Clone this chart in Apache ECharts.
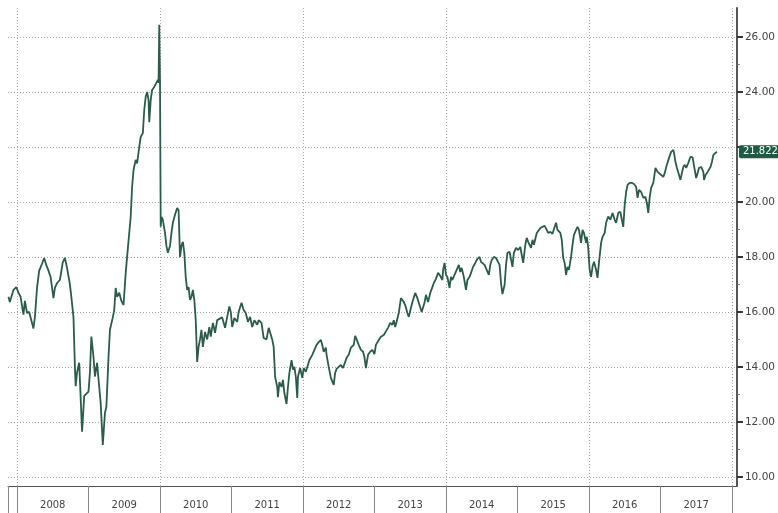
<!DOCTYPE html>
<html>
<head>
<meta charset="utf-8">
<script src="https://cdn.jsdelivr.net/npm/echarts@6/dist/echarts.min.js"></script>
<style>
  html, body { margin: 0; padding: 0; background: #fff; }
  #main { width: 778px; height: 513px; }
</style>
</head>
<body>
<div id="main"></div>
<script>
// positions on the time axis, in decimal years (weekly-ish samples)
var years = [
  2007.88, 2007.90, 2007.95, 2007.99, 2008.02, 2008.05, 2008.09, 2008.11, 2008.14, 2008.17,
  2008.21, 2008.23, 2008.25, 2008.28, 2008.31, 2008.35, 2008.38, 2008.41, 2008.44, 2008.47,
  2008.51, 2008.53, 2008.56, 2008.60, 2008.64, 2008.67, 2008.70, 2008.74, 2008.76, 2008.79,
  2008.81, 2008.82, 2008.84, 2008.87, 2008.89, 2008.91, 2008.94, 2008.96, 2009.00, 2009.02,
  2009.04, 2009.07, 2009.09, 2009.12, 2009.15, 2009.17, 2009.20, 2009.23, 2009.25, 2009.28,
  2009.30, 2009.34, 2009.36, 2009.38, 2009.40, 2009.43, 2009.46, 2009.49,
  2009.52, 2009.54, 2009.57, 2009.59, 2009.61, 2009.63, 2009.66, 2009.68, 2009.71, 2009.73,
  2009.76, 2009.78, 2009.80, 2009.82, 2009.84, 2009.85, 2009.87, 2009.89, 2009.92, 2009.94,
  2009.97, 2009.98, 2009.99, 2010.00, 2010.01, 2010.02, 2010.04, 2010.07, 2010.09, 2010.11,
  2010.14, 2010.16, 2010.18, 2010.21, 2010.24, 2010.26, 2010.28, 2010.30, 2010.32, 2010.34,
  2010.36, 2010.38, 2010.40, 2010.42, 2010.44, 2010.46, 2010.48, 2010.50, 2010.52, 2010.54,
  2010.56, 2010.58, 2010.60, 2010.63, 2010.66, 2010.69, 2010.71, 2010.74, 2010.77, 2010.80,
  2010.87, 2010.91, 2010.94, 2010.97, 2010.99, 2011.01, 2011.04, 2011.08, 2011.10, 2011.14,
  2011.17, 2011.20, 2011.23, 2011.26, 2011.29, 2011.32, 2011.36, 2011.38, 2011.42, 2011.45,
  2011.49, 2011.52, 2011.54, 2011.57, 2011.59, 2011.61, 2011.64, 2011.65, 2011.67, 2011.70,
  2011.72, 2011.74, 2011.77, 2011.79, 2011.81, 2011.84, 2011.86, 2011.88, 2011.90, 2011.92,
  2011.93, 2011.96, 2011.99, 2012.01, 2012.04, 2012.06, 2012.09, 2012.13, 2012.16, 2012.19,
  2012.22, 2012.25, 2012.27, 2012.29, 2012.32, 2012.33, 2012.36, 2012.39, 2012.41, 2012.43,
  2012.45, 2012.47, 2012.50, 2012.53, 2012.56, 2012.59, 2012.61, 2012.64, 2012.67, 2012.71,
  2012.73, 2012.75, 2012.78, 2012.81, 2012.84, 2012.86, 2012.88, 2012.91, 2012.94,
  2012.97, 2013.00, 2013.02, 2013.06, 2013.09, 2013.13, 2013.15, 2013.19, 2013.22, 2013.25,
  2013.27, 2013.29, 2013.31, 2013.34, 2013.37, 2013.41, 2013.43, 2013.46, 2013.48, 2013.51,
  2013.54, 2013.57, 2013.60, 2013.63, 2013.66, 2013.68, 2013.70, 2013.72, 2013.75, 2013.78,
  2013.81, 2013.83, 2013.86, 2013.89, 2013.92, 2013.95, 2013.96, 2013.98, 2014.00, 2014.02,
  2014.05, 2014.07, 2014.09, 2014.12, 2014.15, 2014.18, 2014.20, 2014.22, 2014.25, 2014.28,
  2014.30, 2014.33, 2014.35, 2014.38, 2014.41, 2014.44, 2014.47, 2014.49, 2014.51, 2014.54,
  2014.57, 2014.60, 2014.62, 2014.64, 2014.67, 2014.70, 2014.72, 2014.75, 2014.77, 2014.79,
  2014.82, 2014.84, 2014.86, 2014.89, 2014.91, 2014.93, 2014.95, 2014.98, 2015.01, 2015.04,
  2015.08, 2015.11, 2015.13, 2015.15, 2015.19, 2015.21, 2015.23, 2015.27, 2015.29, 2015.32,
  2015.35, 2015.38, 2015.41, 2015.43, 2015.46, 2015.49, 2015.52, 2015.54, 2015.56, 2015.57,
  2015.60, 2015.62, 2015.64, 2015.66, 2015.68, 2015.70, 2015.72, 2015.75, 2015.77, 2015.79,
  2015.82, 2015.84, 2015.86, 2015.89, 2015.91, 2015.93, 2015.96, 2015.97, 2015.99, 2016.01,
  2016.03, 2016.05, 2016.07, 2016.10, 2016.12, 2016.14, 2016.17, 2016.19, 2016.22, 2016.24,
  2016.27, 2016.30, 2016.33, 2016.36, 2016.38, 2016.41, 2016.44, 2016.46, 2016.48, 2016.50,
  2016.52, 2016.54, 2016.57, 2016.60, 2016.63, 2016.66, 2016.68, 2016.70, 2016.73, 2016.76,
  2016.79, 2016.81, 2016.83, 2016.85, 2016.87, 2016.90, 2016.92, 2016.93, 2016.96, 2016.98,
  2017.01, 2017.04, 2017.06, 2017.09, 2017.12, 2017.15, 2017.18, 2017.19, 2017.21, 2017.23,
  2017.26, 2017.28, 2017.30, 2017.32, 2017.34, 2017.36, 2017.39, 2017.42, 2017.45, 2017.47,
  2017.48, 2017.50, 2017.52, 2017.54, 2017.57, 2017.60, 2017.61, 2017.63, 2017.66, 2017.68,
  2017.70, 2017.72, 2017.74, 2017.77, 2017.79
];

var values = [
  16.55, 16.36, 16.80, 16.90, 16.70, 16.55, 15.90, 16.40, 15.96, 16.00,
  15.60, 15.40, 15.80, 16.87, 17.50, 17.75, 17.96, 17.70, 17.50, 17.27,
  16.50, 16.87, 17.05, 17.16, 17.80, 17.96, 17.60, 17.00, 16.55, 15.80,
  14.00, 13.30, 13.80, 14.15, 12.90, 11.64, 12.95, 12.90, 13.10, 13.80,
  15.10, 14.36, 13.65, 14.15, 13.27, 12.70, 11.16, 12.33, 12.55, 14.36,
  15.35, 15.80, 16.07, 16.87, 16.55, 16.70, 16.40, 16.25,
  17.40, 18.00, 18.87, 19.45, 20.55, 21.16, 21.53, 21.40, 22.00, 22.36,
  22.50, 23.35, 23.82, 24.00, 23.70, 22.90, 23.70, 24.07, 24.18, 24.25,
  24.44, 24.33, 26.44, 24.40, 19.10, 19.45, 19.35, 18.87, 18.40, 18.15,
  18.40, 18.87, 19.24, 19.53, 19.78, 19.70, 18.00, 18.40, 18.55, 18.15,
  17.27, 16.80, 16.90, 16.44, 16.55, 16.80, 16.44, 15.70, 14.18, 14.73,
  15.00, 15.35, 14.73, 15.27, 15.00, 15.45, 15.10, 15.60, 15.24, 15.70,
  15.80, 15.42, 15.82, 16.20, 16.00, 15.45, 15.78, 15.64, 16.00, 16.33,
  16.07, 15.96, 15.64, 15.82, 15.45, 15.70, 15.53, 15.70, 15.60, 15.05,
  15.00, 15.42, 15.42, 15.00, 14.73, 13.64, 13.27, 12.90, 13.45, 13.27,
  13.53, 13.05, 12.65, 13.27, 13.78, 14.25, 13.90, 14.00, 13.64, 12.87,
  13.64, 13.96, 13.60, 13.96, 13.82, 14.00, 14.25, 14.44, 14.62, 14.80,
  14.90, 14.98, 14.80, 14.55, 14.70, 14.44, 14.00, 13.60, 13.53, 13.35,
  13.78, 13.93, 14.00, 14.07, 13.96, 14.18, 14.33, 14.44, 14.70, 14.80,
  15.13, 15.00, 14.80, 14.62, 14.55, 14.36, 13.96, 14.44, 14.55,
  14.62, 14.47, 14.80, 14.98, 15.10, 15.16, 15.10, 15.42, 15.60, 15.53,
  15.70, 15.45, 15.64, 15.96, 16.50, 16.36, 16.25, 15.96, 15.82, 16.15,
  16.44, 16.69, 16.50, 16.25, 16.00, 15.96, 16.33, 16.62, 16.36, 16.69,
  16.90, 17.05, 17.20, 17.42, 17.31, 17.16, 17.53, 17.78, 17.35, 17.27,
  16.87, 17.27, 17.16, 17.35, 17.53, 17.71, 17.45, 17.60, 17.27, 16.80,
  17.16, 17.27, 17.42, 17.64, 17.78, 17.93, 18.00, 17.82, 17.89, 17.71,
  17.53, 17.35, 17.71, 17.89, 18.00, 17.96, 18.00, 17.71, 17.05, 16.65,
  16.98, 17.71, 18.15, 18.18, 18.25, 17.64, 18.15, 18.33, 18.25, 18.36,
  17.78, 18.44, 18.69, 18.55, 18.33, 18.62, 18.44, 18.87, 18.91, 19.05,
  19.09, 19.13, 18.98, 18.87, 18.91, 18.84, 19.09, 19.24, 18.98, 18.91,
  18.87, 18.62, 17.96, 17.78, 17.35, 17.64, 17.53, 18.00, 18.44, 18.80,
  18.98, 19.09, 18.98, 18.51, 18.98, 18.87, 18.51, 18.73, 18.33, 17.53,
  17.27, 17.64, 17.82, 17.53, 17.24, 17.78, 18.51, 18.73, 18.87, 19.24,
  19.47, 19.35, 19.60, 19.35, 19.24, 19.60, 19.64, 19.35, 19.09, 19.89,
  20.36, 20.62, 20.69, 20.69, 20.65, 20.55, 20.15, 20.44, 20.36, 20.15,
  20.18, 19.96, 19.60, 20.18, 20.51, 20.69, 21.05, 21.24, 21.09, 21.05,
  20.98, 20.91, 21.05, 21.35, 21.60, 21.82, 21.89, 21.78, 21.45, 21.24,
  20.98, 20.80, 21.05, 21.27, 21.35, 21.24, 21.42, 21.64, 21.62, 21.60,
  21.16, 20.87, 21.05, 21.24, 21.27, 21.09, 20.80, 20.98, 21.09, 21.05,
  21.27, 21.45, 21.71, 21.78, 21.822
];

var yMajorTicks = [10, 12, 14, 16, 18, 20, 22, 24, 26];
// 22.00 sits under the last-value box, so it gets no label
var yLabelTicks = [10, 12, 14, 16, 18, 20, 24, 26];
var yMinorTicks = [11, 13, 15, 17, 19, 21, 23, 25];
var yearBounds = [2007.874, 2008, 2009, 2010, 2011, 2012, 2013, 2014, 2015, 2016, 2017, 2018];
var gridYears = [2008, 2010, 2012, 2014, 2016, 2018];
var yearMids = [2008.5, 2009.5, 2010.5, 2011.5, 2012.5, 2013.5, 2014.5, 2015.5, 2016.5, 2017.5];
var lastValue = 21.822;

var xMin = 2007.874, xMax = 2018.07;
var yMin = 9.67, yMax = 27.05;

var lineColor = '#2c5a4b';
var gridColor = '#a8a8a8';

var seriesData = years.map(function (t, i) { return [t, values[i]]; });

var myChart = echarts.init(document.getElementById('main'), null, { renderer: 'canvas' });

var option = {
    backgroundColor: '#fff',
    animation: false,
    grid: { left: 8, right: 40, top: 8, bottom: 27 },
    xAxis: [{
        type: 'value',
        min: xMin,
        max: xMax,
        axisLine: { show: false },
        axisLabel: { show: false },
        axisTick: { show: false, customValues: gridYears },
        splitLine: { show: true, lineStyle: { color: gridColor, type: [1, 2], width: 1 } }
    }, {
        // year band at the bottom
        type: 'value',
        min: xMin,
        max: xMax,
        position: 'bottom',
        axisLine: { show: true, lineStyle: { color: '#555', width: 1 } },
        axisTick: {
            show: true, inside: false, length: 27,
            customValues: yearBounds,
            lineStyle: { color: '#888', width: 1 }
        },
        axisLabel: {
            show: true, customValues: yearMids, margin: 14,
            color: '#444', fontSize: 10, fontFamily: 'DejaVu Sans',
            formatter: function (v) { return String(Math.floor(v)); }
        },
        splitLine: { show: false }
    }],
    yAxis: [{
        type: 'value',
        position: 'right',
        min: yMin,
        max: yMax,
        axisLine: { show: true, lineStyle: { color: '#555', width: 2 } },
        axisTick: {
            show: true, inside: false, length: 6,
            customValues: yMajorTicks,
            lineStyle: { color: '#333', width: 2 }
        },
        axisLabel: {
            show: true, customValues: yLabelTicks, margin: 8,
            color: '#444', fontSize: 10.5, fontFamily: 'DejaVu Sans',
            formatter: function (v) { return v.toFixed(2); }
        },
        splitLine: { show: true, lineStyle: { color: gridColor, type: [1, 2], width: 1 } }
    }, {
        // minor ticks between the labelled ones
        type: 'value',
        position: 'right',
        min: yMin,
        max: yMax,
        axisLine: { show: false },
        axisTick: {
            show: true, inside: false, length: 3,
            customValues: yMinorTicks,
            lineStyle: { color: '#777', width: 1 }
        },
        axisLabel: { show: false },
        splitLine: { show: false }
    }],
    series: [{
        name: 'value',
        type: 'line',
        xAxisIndex: 0,
        yAxisIndex: 0,
        data: seriesData,
        showSymbol: false,
        symbol: 'none',
        lineStyle: { color: lineColor, width: 1.8 },
        markLine: {
            silent: true,
            symbol: 'none',
            lineStyle: { color: 'rgba(0,0,0,0)', width: 0 },
            data: [{ yAxis: lastValue }],
            label: {
                show: true,
                position: 'end',
                distance: 2,
                formatter: function () { return lastValue.toFixed(3); },
                color: '#fff',
                fontSize: 10,
                fontFamily: 'DejaVu Sans',
                backgroundColor: '#1f5a45',
                padding: [2, 3, 1, 4],
                borderRadius: 2
            }
        }
    }]
};

myChart.setOption(option);
</script>
</body>
</html>
